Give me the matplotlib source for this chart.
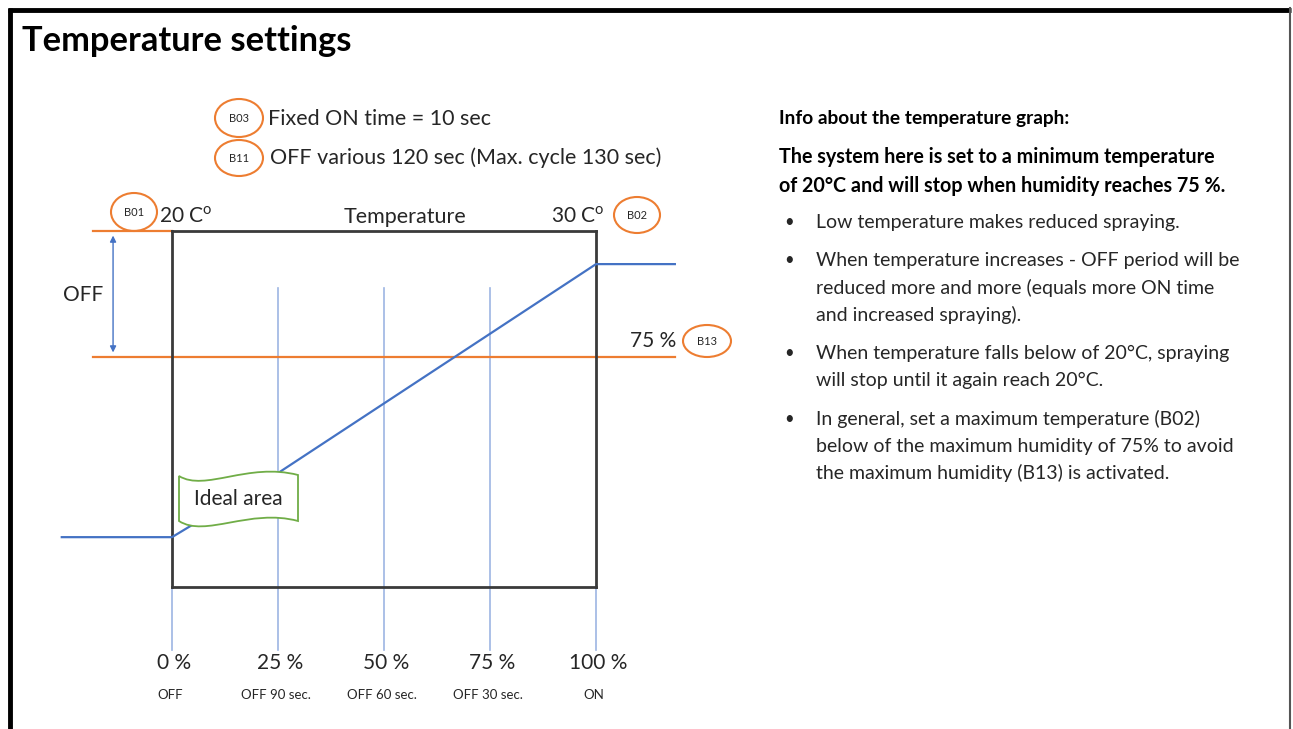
import matplotlib
matplotlib.use("Agg")
import matplotlib.pyplot as plt
from matplotlib.patches import Ellipse, PathPatch
from matplotlib.path import Path

plt.rcParams['font.family'] = ['Lato', 'DejaVu Sans']
plt.rcParams['mathtext.fontset'] = 'custom'
plt.rcParams['mathtext.rm'] = 'Lato'

# data: x = position on the temperature scale (%), y = spraying level (box = 0..100)
pct_ticks = [0, 25, 50, 75, 100]
pct_labels = ["0 %", "25 %", "50 %", "75 %", "100 %"]
off_labels = ["OFF", "OFF 90 sec.", "OFF 60 sec.", "OFF 30 sec.", "ON"]
temp_x = [-26, 0, 25, 100, 118.6]
temp_y = [14, 14, 32, 90.7, 90.7]
humidity_max = 64.6      # B13 line (75 %)
min_temp_level = 100     # B01 line (20 C)

info_title = "Info about the temperature graph:"
info_bold = ["The system here is set to a minimum temperature",
             "of 20°C and will stop when humidity reaches 75 %."]
bullets = [
    ["Low temperature makes reduced spraying."],
    ["When temperature increases - OFF period will be",
     "reduced more and more (equals more ON time",
     "and increased spraying)."],
    ["When temperature falls below of 20°C, spraying",
     "will stop until it again reach 20°C."],
    ["In general, set a maximum temperature (B02)",
     "below of the maximum humidity of 75% to avoid",
     "the maximum humidity (B13) is activated."],
]

BLUE = "#4472C4"
LBLUE = "#9DB5E3"
ORANGE = "#ED7D31"
GREEN = "#70AD47"
TXT = "#262626"

W, H = 1293, 729
fig = plt.figure(figsize=(W / 100, H / 100), dpi=100)

# pixel-space layer for the slide decorations
bg = fig.add_axes([0, 0, 1, 1])
bg.set_xlim(0, W)
bg.set_ylim(H, 0)
bg.axis('off')
bg.set_zorder(0)

# slide frame
bg.plot([9.5, 9.5], [8, H], color='black', lw=3.5, solid_capstyle='butt')
bg.plot([8, 1291], [9.5, 9.5], color='black', lw=3.5, solid_capstyle='butt')
bg.plot([1290, 1290], [8, H], color='#555555', lw=1.5)

bg.text(22, 41, "Temperature settings", fontsize=24.8, fontweight='bold',
        va='center', ha='left', color='black')

# info block on the right
bg.text(779, 118, info_title, fontsize=13.8, fontweight='bold', va='center', color='black')
for i, line in enumerate(info_bold):
    bg.text(779, 157 + i * 29, line, fontsize=14.2, fontweight='bold', va='center', color='black')
y = 222
for item in bullets:
    bg.text(784, y, "•", fontsize=12, va='center', color=TXT)
    for line in item:
        bg.text(816, y, line, fontsize=14, va='center', color=TXT)
        y += 27.3
    y += 11

# circled parameter labels
def tag(x, y, label, w=48, h=36):
    bg.add_patch(Ellipse((x, y), w, h, fill=False, edgecolor=ORANGE, lw=1.5))
    bg.text(x, y, label, fontsize=8, ha='center', va='center', color=TXT)

tag(239, 118, "B03", 48, 38)
tag(239, 158, "B11", 48, 36)
tag(134, 212, "B01", 46, 38)
tag(637, 215, "B02", 46, 36)
tag(707, 341, "B13", 48, 32)

bg.text(268, 119, "Fixed ON time = 10 sec", fontsize=15.5, va='center', color=TXT)
bg.text(270, 158, "OFF various 120 sec (Max. cycle 130 sec)", fontsize=15.5, va='center', color=TXT)

# main chart box
ax = fig.add_axes([172 / W, 1 - 587 / H, 424 / W, 356 / H])
ax.set_zorder(1)
ax.set_xlim(0, 100)
ax.set_ylim(0, 100)
ax.set_xticks([])
ax.set_yticks([])
ax.patch.set_alpha(0)
for s in ax.spines.values():
    s.set_color('#3a3a3a')
    s.set_linewidth(2)

for x in pct_ticks:
    top = 84 if 0 < x < 100 else 0
    ax.plot([x, x], [-17.7, top], color=LBLUE, lw=1.2, clip_on=False, zorder=1)

ax.plot([-18.6, 0], [min_temp_level] * 2, color=ORANGE, lw=1.6, clip_on=False)
ax.plot([-18.6, 118.6], [humidity_max] * 2, color=ORANGE, lw=1.6, clip_on=False)
ax.plot(temp_x, temp_y, color=BLUE, lw=1.6, clip_on=False, zorder=3)

ax.annotate("", xy=(-13.9, humidity_max + 0.5), xytext=(-13.9, min_temp_level - 0.5),
            arrowprops=dict(arrowstyle='<|-|>', color=BLUE, lw=1, mutation_scale=9),
            annotation_clip=False)
ax.text(-21, 82, "OFF", fontsize=15, ha='center', va='center', color=TXT)

ax.text(-3, 104, "20 C$^\\mathrm{o}$", fontsize=15, ha='left', va='center', color=TXT)
ax.text(55, 104, "Temperature", fontsize=15.5, ha='center', va='center', color=TXT)
ax.text(102, 104, "30 C$^\\mathrm{o}$", fontsize=15, ha='right', va='center', color=TXT)
ax.text(119, 69, "75 %", fontsize=15, ha='right', va='center', color=TXT)

for x, lab, sub in zip(pct_ticks, pct_labels, off_labels):
    ax.text(x + 0.5, -21.3, lab, fontsize=15, ha='center', va='center', color=TXT)
    ax.text(x - 0.5, -30.3, sub, fontsize=9.5, ha='center', va='center', color=TXT)

# "Ideal area" wave banner, drawn in pixel space on top of the chart
verts = [(179, 476), (205, 492), (248, 462), (298, 475),
         (298, 521),
         (250, 508), (205, 538), (179, 521),
         (179, 476)]
codes = [Path.MOVETO, Path.CURVE4, Path.CURVE4, Path.CURVE4,
         Path.LINETO,
         Path.CURVE4, Path.CURVE4, Path.CURVE4,
         Path.CLOSEPOLY]
banner = PathPatch(Path(verts, codes), facecolor='white', edgecolor=GREEN, lw=1.3,
                   transform=bg.transData, clip_on=False, zorder=5)
ax.add_patch(banner)
ax.text(238, 499, "Ideal area", fontsize=15, ha='center', va='center', color=TXT,
        transform=bg.transData, zorder=6)

fig.savefig("out.png", dpi=100, facecolor='white')
